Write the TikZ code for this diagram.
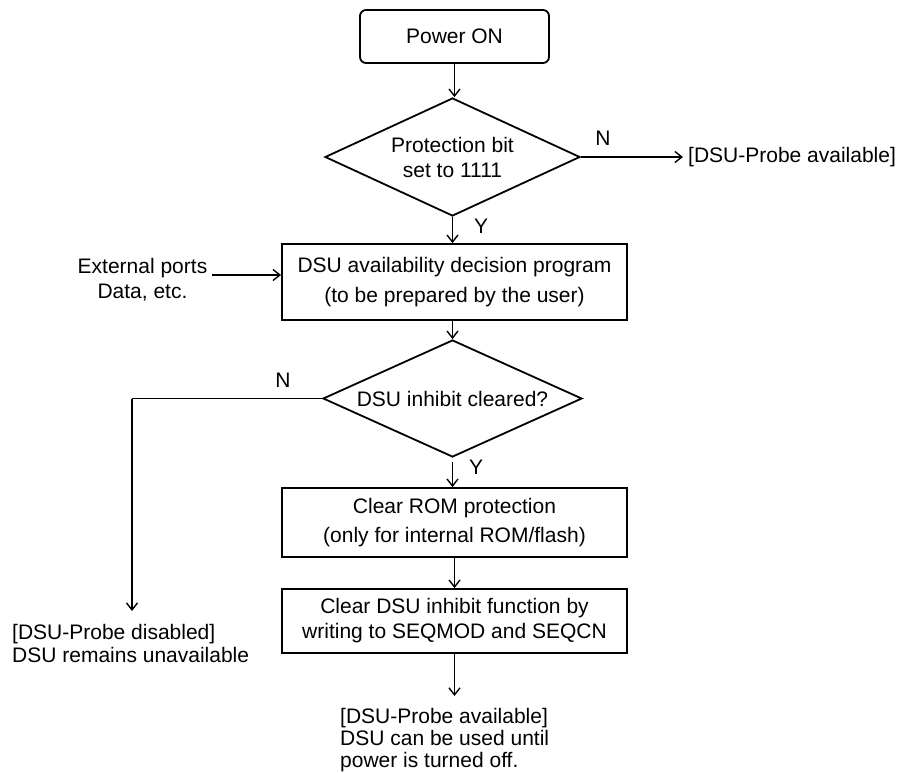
\documentclass[tikz,border=0pt]{standalone}
\usepackage{fontspec}
\setmainfont{Liberation Sans}
\usetikzlibrary{shapes.geometric,arrows.meta}
\begin{document}
\begin{tikzpicture}[x=1pt,y=-1pt,
  every node/.style={font=\fontsize{21}{25}\selectfont, inner sep=0pt},
  ln/.style={line width=1.8pt},
  arr/.style={ln,-{Straight Barb[length=7pt,width=11pt,line width=1.4pt]}},
  procbox/.style={draw, ln, rectangle, minimum width=345pt, align=center},
  decision/.style={draw, ln, diamond, align=center}
]
\useasboundingbox (0,0) rectangle (902,773);

\node[draw, ln, rounded corners=6pt, minimum width=189pt, minimum height=53pt] (p) at (454.5,36.5) {Power ON};

\node[decision, minimum width=255pt, minimum height=118pt, aspect=2.16] (d1) at (452.5,157) {Protection bit\\set to 1111};
\node[anchor=west] (av1) at (688,157) {[DSU-Probe available]};
\node (n1) at (603,138) {N};
\node (y1) at (481,226) {Y};

\node[procbox, minimum height=76pt] (b2) at (454.5,282) {DSU availability decision program\\[5pt](to be prepared by the user)};
\node[align=center] (ext) at (142.5,280) {External ports\\Data, etc.};
\coordinate (e) at (212,275);

\node[decision, minimum width=259pt, minimum height=117pt, aspect=2.2] (d2) at (452.5,398.5) {DSU inhibit cleared?};
\node (n2) at (283,380) {N};
\node (y2) at (476,467) {Y};
\coordinate (lc) at (132,398.5);
\coordinate (le) at (132,611);
\node[anchor=west, align=left, font=\fontsize{21}{23}\selectfont] (dis) at (12,643) {[DSU-Probe disabled]\\DSU remains unavailable};

\node[procbox, minimum height=69pt] (b3) at (454.5,522.5) {Clear ROM protection\\[4pt](only for internal ROM/flash)};
\node[procbox, minimum height=64pt] (b4) at (454.5,621) {Clear DSU inhibit function by\\writing to SEQMOD and SEQCN};
\coordinate (be) at (454.5,696);
\node[anchor=west, align=left, font=\fontsize{21}{22}\selectfont] (av2) at (340,740) {[DSU-Probe available]\\DSU can be used until\\power is turned off.};

\draw[arr] (p.south) -- (p.south |- d1.north);
\draw[arr, shorten >=5pt] (d1.east) -- (av1.west);
\draw[arr] (d1.south) -- (d1.south |- b2.north);
\draw[arr] (e) -- (e -| b2.west);
\draw[arr] (b2.south -| d2.north) -- (d2.north);
\draw[ln] (d2.west) -- (lc);
\draw[arr] (lc) -- (le);
\draw[arr] ([yshift=-4pt]d2.south) -- (d2.south |- b3.north);
\draw[arr] (b3.south) -- (b4.north);
\draw[arr] (b4.south) -- (be);
\end{tikzpicture}
\end{document}
